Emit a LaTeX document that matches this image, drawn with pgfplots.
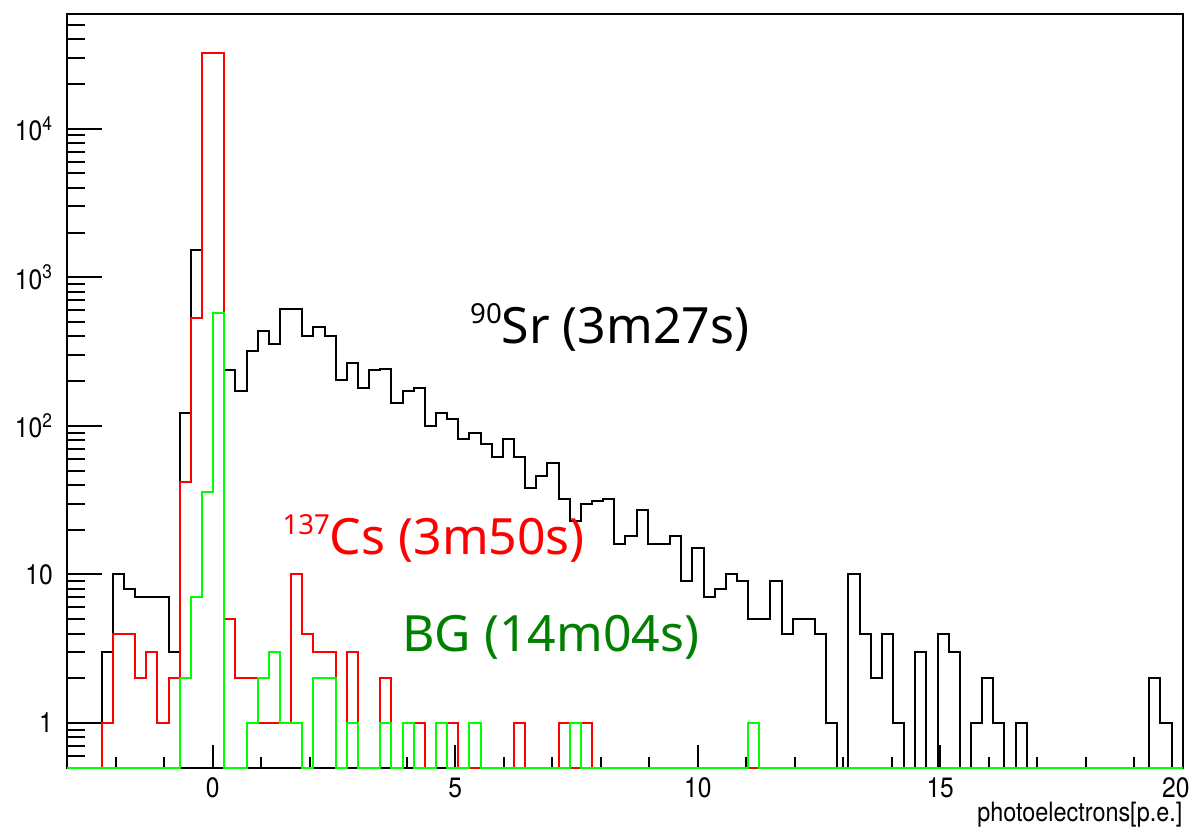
\documentclass[border=0pt]{standalone}
\usepackage{fontspec}
\setmainfont{TeX Gyre Heros}[FakeStretch=0.88]
\newfontfamily\annot{Noto Sans}
\usepackage{pgfplots}
\usepackage{pgfplotstable}
\pgfplotsset{compat=1.18}
\definecolor{bggreen}{RGB}{0,128,0}

\pgfplotstableread{
x black red green
-3.0000 0.5 0.5 0.5
-2.9800 0.5 0.5 0.5
-2.7502 0.5 0.5 0.5
-2.5204 0.5 0.5 0.5
-2.2906 3 1 0.5
-2.0608 10 4 0.5
-1.8310 8 4 0.5
-1.6012 7 2 0.5
-1.3714 7 3 0.5
-1.1416 7 1 0.5
-0.9118 3 2 0.5
-0.6820 122 42 2
-0.4522 1515 531 7
-0.2224 32400 32400 36
0.0074 32400 32400 574
0.2372 236 5 0.5
0.4670 172 2 0.5
0.6968 320 2 1
0.9266 436 1 2
1.1564 355 1 3
1.3862 611 1 1
1.6160 611 10 1
1.8458 400 4 0.5
2.0756 462 3 2
2.3054 400 3 2
2.5352 202 0.5 0.5
2.7650 265 3 1
2.9948 180 0.5 0.5
3.2246 236 0.5 0.5
3.4544 241 2 1
3.6842 142 0.5 0.5
3.9140 172 1 1
4.1438 180 1 0.5
4.3736 99 0.5 0.5
4.6034 122 1 1
4.8332 111 1 0.5
5.0630 81 0.5 0.5
5.2928 89 0.5 1
5.5226 75 0.5 0.5
5.7524 62 0.5 0.5
5.9822 81 0.5 0.5
6.2120 62 1 0.5
6.4418 38 0.5 0.5
6.6716 46 0.5 0.5
6.9014 56 0.5 0.5
7.1312 32 1 0.5
7.3610 23 0.5 1
7.5908 30 1 0.5
7.8206 31 0.5 0.5
8.0504 32 0.5 0.5
8.2802 16 0.5 0.5
8.5100 18 0.5 0.5
8.7398 27 0.5 0.5
8.9696 16 0.5 0.5
9.1994 16 0.5 0.5
9.4292 18 0.5 0.5
9.6590 9 0.5 0.5
9.8888 15 0.5 0.5
10.1186 7 0.5 0.5
10.3484 8 0.5 0.5
10.5782 10 0.5 0.5
10.8080 9 0.5 0.5
11.0378 5 0.5 1
11.2676 5 0.5 0.5
11.4974 9 0.5 0.5
11.7272 4 0.5 0.5
11.9570 5 0.5 0.5
12.1868 5 0.5 0.5
12.4166 4 0.5 0.5
12.6464 1 0.5 0.5
12.8762 0.5 0.5 0.5
13.1060 10 0.5 0.5
13.3358 4 0.5 0.5
13.5656 2 0.5 0.5
13.7954 4 0.5 0.5
14.0252 1 0.5 0.5
14.2550 0.5 0.5 0.5
14.4848 3 0.5 0.5
14.7146 0.5 0.5 0.5
14.9444 4 0.5 0.5
15.1742 3 0.5 0.5
15.4040 0.5 0.5 0.5
15.6338 1 0.5 0.5
15.8636 2 0.5 0.5
16.0934 1 0.5 0.5
16.3232 0.5 0.5 0.5
16.5530 1 0.5 0.5
16.7828 0.5 0.5 0.5
19.3106 2 0.5 0.5
19.5404 1 0.5 0.5
19.7702 0.5 0.5 0.5
20.0000 0.5 0.5 0.5
}\histdata

\begin{document}
\begin{tikzpicture}
% axis with the y ticks and labels
\begin{axis}[
  at={(0,0)}, anchor=south west, scale only axis,
  width=557.7pt, height=376.85pt,
  xmin=-3, xmax=20, ymode=log, ymin=0.5, ymax=59150,
  axis line style={line width=1pt},
  xtick=\empty,
  ytick={1,10,100,1000,10000},
  yticklabels={1,10,10\textsuperscript{2},10\textsuperscript{3},10\textsuperscript{4}},
  minor ytick={0.6,0.7,0.8,0.9,2,3,4,5,6,7,8,9,20,30,40,50,60,70,80,90,200,300,400,500,600,700,800,900,2000,3000,4000,5000,6000,7000,8000,9000,20000,30000,40000,50000},
  ytick pos=left, tick align=inside,
  major tick length=17.5pt, minor tick length=8.85pt,
  tick style={line width=1pt, black},
  yticklabel style={anchor=east, inner sep=0pt, xshift=-7pt, font=\fontsize{14}{14}\selectfont},
]
\end{axis}
% main axis with the histograms and x ticks
\begin{axis}[
  at={(0,0)}, anchor=south west, scale only axis,
  width=557.7pt, height=376.85pt,
  xmin=-3, xmax=20, ymode=log, ymin=0.5, ymax=59150,
  clip=false,
  axis line style={line width=1pt},
  ytick=\empty,
  xtick={0,5,10,15,20}, xticklabels={0,5,10,15,\llap{2}0},
  minor xtick={-2,-1,1,2,3,4,6,7,8,9,11,12,13,14,16,17,18,19},
  xtick pos=left, tick align=inside,
  major tick length=11.35pt, minor tick length=5.5pt,
  tick style={line width=1pt, black},
  xticklabel style={anchor=base, inner sep=0pt, yshift=-14.65pt, font=\fontsize{14}{14}\selectfont},
  xlabel={photoelectrons[p.e.]},
  xlabel style={at={(axis description cs:1,0)}, anchor=base east, inner sep=0pt, yshift=-27pt, font=\fontsize{13.3}{14}\selectfont},
]
\addplot[const plot, black, line width=1pt, no marks] table[x=x,y=black]{\histdata};
\addplot[const plot, red, line width=1pt, no marks] table[x=x,y=red]{\histdata};
\addplot[const plot, green, line width=1pt, no marks] table[x=x,y=green]{\histdata};
\node[anchor=base west, inner sep=0pt, text=black, font=\annot\fontsize{25}{26}\selectfont] at (axis cs:5.30,357) {\raisebox{10pt}{\fontsize{13.8}{14}\selectfont 90}Sr (3m27s)};
\node[anchor=base west, inner sep=0pt, text=red, font=\annot\fontsize{25}{26}\selectfont] at (axis cs:1.43,13.6) {\raisebox{10pt}{\fontsize{13.8}{14}\selectfont 137}Cs (3m50s)};
\node[anchor=base west, inner sep=0pt, text=bggreen, font=\annot\fontsize{25}{26}\selectfont] at (axis cs:3.90,3.02) {BG (14m04s)};
\end{axis}
\pgfresetboundingbox
\path[use as bounding box] (-33.65pt,-34.65pt) rectangle (568.35pt,383.85pt);
\end{tikzpicture}
\end{document}
